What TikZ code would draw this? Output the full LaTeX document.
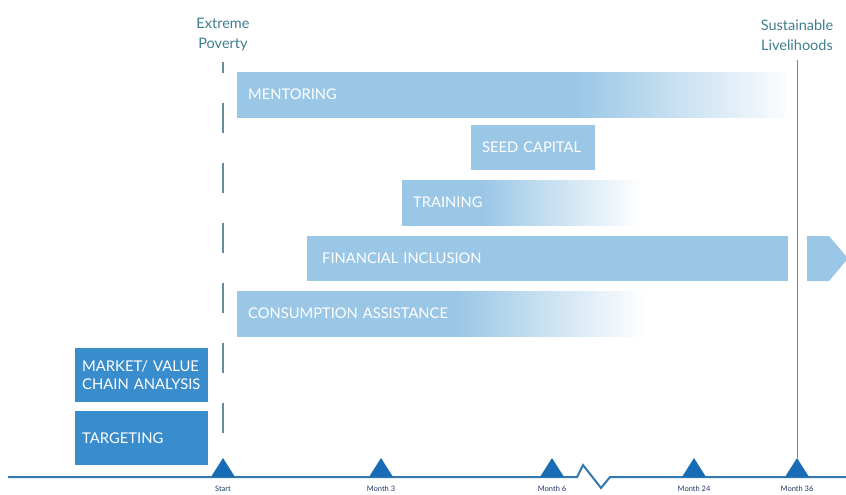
\documentclass[tikz,border=0pt]{standalone}
\usepackage{fontspec}
\setmainfont{Lato}
\usepackage{tikz}
\usetikzlibrary{positioning}

\definecolor{barblue}{RGB}{155,199,230}
\definecolor{boxblue}{RGB}{58,141,204}
\definecolor{tickblue}{RGB}{24,108,181}
\definecolor{axisblue}{RGB}{52,120,176}
\definecolor{headteal}{RGB}{62,126,142}
\definecolor{labelnavy}{RGB}{30,55,100}
\definecolor{markgray}{RGB}{105,140,160}

% fading bars (the node box maps to 25bp..75bp)
\pgfdeclarehorizontalshading{fadementor}{100bp}{color(0bp)=(barblue); color(56bp)=(barblue); color(76bp)=(white); color(100bp)=(white)}
\pgfdeclarehorizontalshading{fadetrain}{100bp}{color(0bp)=(barblue); color(42bp)=(barblue); color(75bp)=(white); color(100bp)=(white)}
\pgfdeclarehorizontalshading{fadeconsume}{100bp}{color(0bp)=(barblue); color(52bp)=(barblue); color(75bp)=(white); color(100bp)=(white)}

\begin{document}
\begin{tikzpicture}[x=1pt, y=-1pt,
  bar/.style={anchor=north west, minimum height=45, inner xsep=11, align=left, text=white, font=\fontsize{14.7}{17}\selectfont, fill=barblue},
  fadebar/.style={bar, fill=none, shade, shading=#1},
  darkbox/.style={anchor=north west, minimum height=54, inner xsep=7, align=left, text=white, font=\fontsize{14.8}{18}\selectfont, fill=boxblue},
  heading/.style={align=center, text=headteal, font=\fontsize{14.5}{20}\selectfont},
  ticklabel/.style={text=labelnavy, inner sep=1, font=\fontsize{7.5}{8}\selectfont}]
\useasboundingbox (0,0) rectangle (846,495);

% milestones
\node[heading] (poverty) at (223,35) {Extreme\\Poverty};
\node[heading] (sustain) at (797,35) {Sustainable\\Livelihoods};

% bars
\node[fadebar=fadementor, text width=526] (mentoring) at (237,72) {MENTORING};
\node[bar, text width=102] (seed) at (471,125) {SEED CAPITAL};
\node[fadebar=fadetrain, text width=216] (training) at (402,180) {TRAINING};
\node[bar, inner xsep=15, text width=451] (finance) at (307,236) {FINANCIAL INCLUSION};
\node[fadebar=fadeconsume, text width=386] (consume) at (237,291) {CONSUMPTION ASSISTANCE};
\fill[barblue] (807,236) -- (829,236) -- (848,258.5) -- (829,281) -- (807,281) -- cycle;

\node[darkbox, text width=119] (market) at (75,348) {MARKET/ VALUE\\CHAIN ANALYSIS};
\node[darkbox, text width=119] (target) at (75,411) {TARGETING};

% timeline
\draw[axisblue, line width=2] (8,477) -- (577,477) -- (583,465) -- (601,488) -- (610,477) -- (846,477);
\foreach \x/\lbl/\nm in {223/Start/start, 381/Month 3/mthree, 552/Month 6/msix, 694/Month 24/mtwentyfour, 797/Month 36/mthirtysix} {
  \fill[tickblue] (\x-12,477) -- (\x,458) -- (\x+12,477) -- cycle;
  \coordinate (top\nm) at (\x,458);
  \node[ticklabel] (lbl\nm) at (\x,489) {\lbl};
}

\coordinate (dashtop) at (223,62);
\coordinate (soltop) at (797,60);
\draw[markgray, line width=1.3, dash pattern=on 30 off 30] (223,433) -- (dashtop);
\draw[markgray, line width=1] (soltop) -- (topmthirtysix);
\end{tikzpicture}
\end{document}
